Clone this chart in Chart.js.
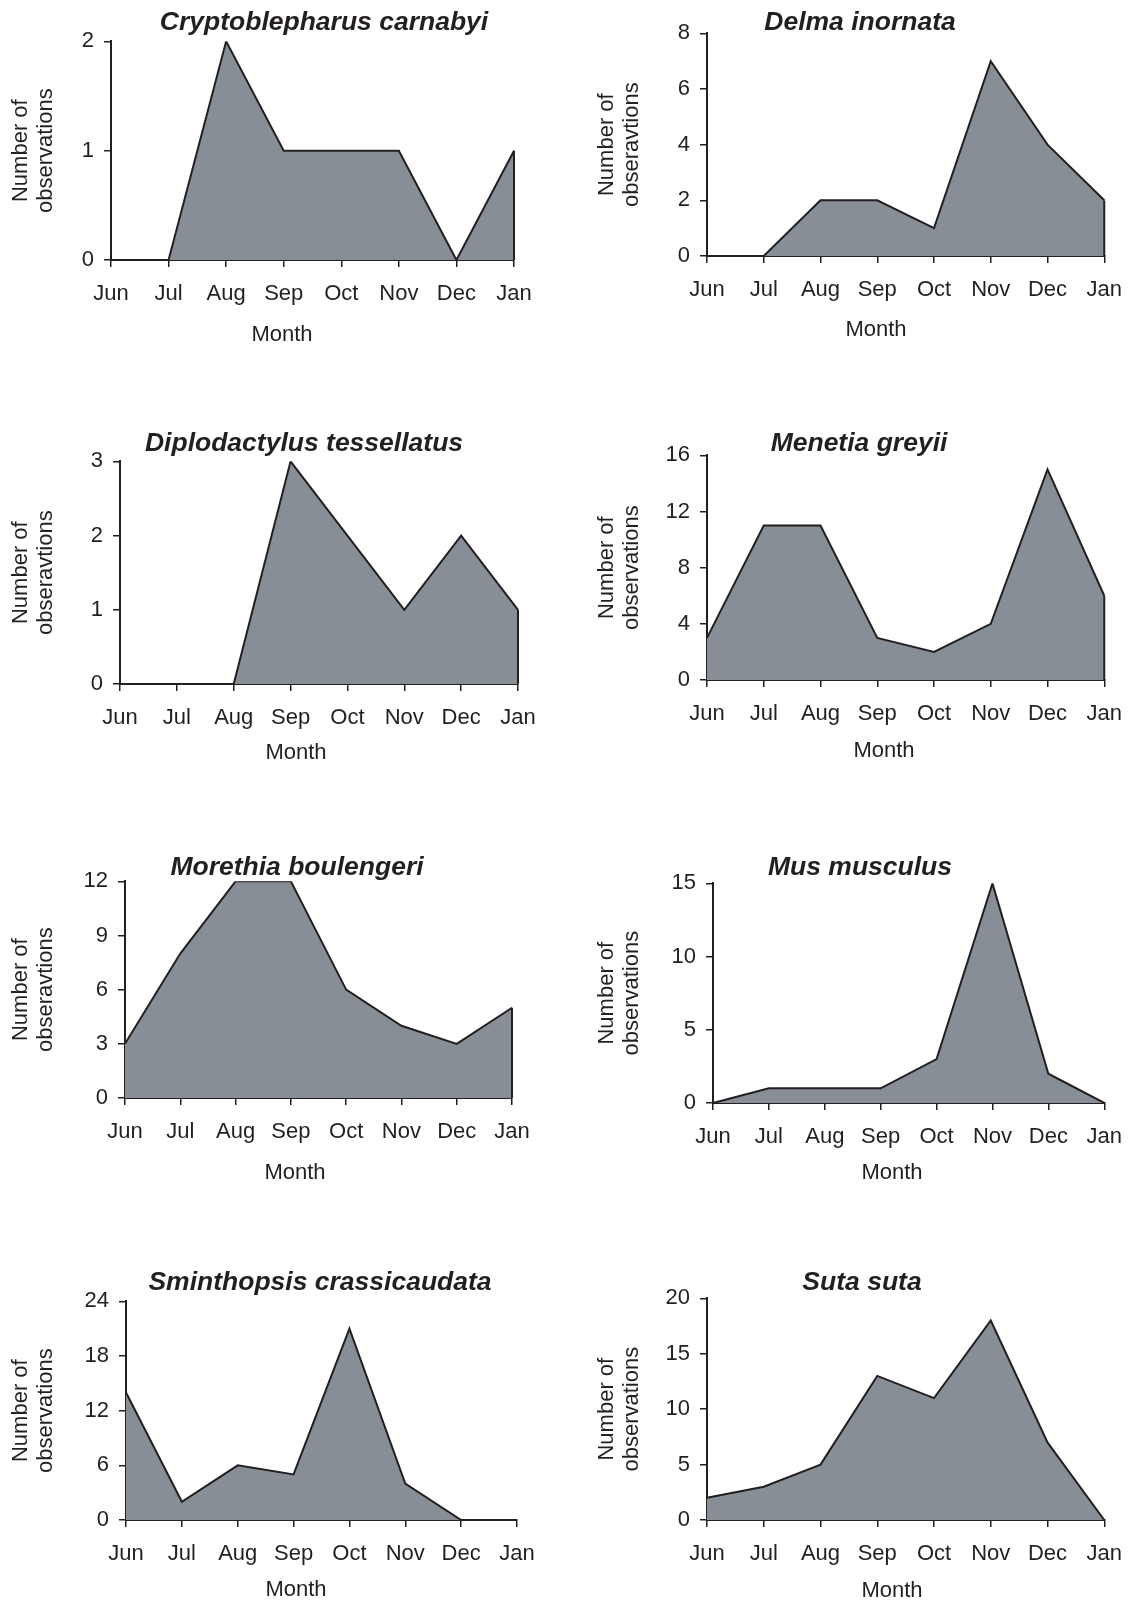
<!DOCTYPE html>
<html>
<head>
<meta charset="utf-8">
<title>Monthly observations</title>
<script src="https://cdn.jsdelivr.net/npm/chart.js@4.4.1/dist/chart.umd.min.js"></script>
<style>
body{margin:0;background:#fff;width:1141px;height:1606px;overflow:hidden;position:relative;}
canvas{position:absolute;}
</style>
</head>
<body>
<script>
'use strict';
//months on the x axis
let months=['Jun','Jul','Aug','Sep','Oct','Nov','Dec','Jan'];
//species, in panel order
let speciesNames=['Cryptoblepharus carnabyi','Delma inornata','Diplodactylus tessellatus','Menetia greyii',
  'Morethia boulengeri','Mus musculus','Sminthopsis crassicaudata','Suta suta'];
//number of observations each month
let cryptoblepharus=[0,0,2,1,1,1,0,1];
let delma=[0,0,2,2,1,7,4,2];
let diplodactylus=[0,0,0,3,2,1,2,1];
let menetia=[3,11,11,3,2,4,15,6];
let morethia=[3,8,12,12,6,4,3,5];
let mus=[0,1,1,1,3,15,2,0];
let sminthopsis=[14,2,6,5,21,4,0,0];
let suta=[2,3,5,13,11,18,7,0];
let allSeries=[cryptoblepharus,delma,diplodactylus,menetia,morethia,mus,sminthopsis,suta];
//y axis tick range
let yMaxes=[2,8,3,16,12,15,24,20];
let ySteps=[1,2,1,4,3,5,6,5];
//second line of the y title (spelt as in the original)
let yTitleWords=['observations','obseravtions','obseravtions','observations',
  'obseravtions','observations','observations','observations'];

//where each plot sits on the page:
//plot area L/T/R/B, title centre tx/ty, first y title line yt, Month centre mx/my
let panelBoxes=[
  {L:111,T:41,R:514,B:260,tx:324,ty:20.5,yt:20.5,mx:282,my:335},
  {L:707,T:33,R:1112,B:256,tx:860,ty:20.5,yt:607,mx:876,my:330},
  {L:120,T:461,R:518,B:684,tx:304,ty:441,yt:20.5,mx:296,my:753},
  {L:707,T:455,R:1112,B:680,tx:859,ty:441,yt:607,mx:884,my:751},
  {L:125,T:881,R:512,B:1098,tx:297,ty:865,yt:20.5,mx:295,my:1173},
  {L:713,T:883,R:1112,B:1103,tx:860,ty:865,yt:607,mx:892,my:1173},
  {L:126,T:1301,R:517,B:1520,tx:320,ty:1280,yt:20.5,mx:296,my:1590},
  {L:707,T:1298,R:1112,B:1520,tx:862,ty:1280,yt:607,mx:892,my:1591}
];

let ink='#231f20';
let areaGrey='#878e95';
let fontFam="'Liberation Sans', Arial, sans-serif";

//outline the right edge of the area down to zero
let edgeLine={
  id:'edgeLine',
  afterDatasetsDraw(chart){
    let meta=chart.getDatasetMeta(0);
    let last=meta.data[meta.data.length-1];
    let y0=chart.scales.y.getPixelForValue(0);
    let ctx=chart.ctx;
    ctx.save();
    ctx.strokeStyle=ink;
    ctx.lineWidth=2;
    ctx.beginPath();
    ctx.moveTo(last.x,last.y);
    ctx.lineTo(last.x,y0);
    ctx.stroke();
    ctx.restore();
  }
};

//x axis title, sits a bit left of the plot centre in the original
let monthTitle={
  id:'monthTitle',
  afterDraw(chart,args,opts){
    let ctx=chart.ctx;
    ctx.save();
    ctx.fillStyle=ink;
    ctx.font="22px "+fontFam;
    ctx.textAlign='center';
    ctx.textBaseline='middle';
    ctx.fillText('Month',opts.x,opts.y);
    ctx.restore();
  }
};

function drawPanel(i){
  let p=panelBoxes[i];
  let left=Math.floor(Math.min(p.yt-12.65,2*p.tx-p.R-24));
  let right=Math.round(2*p.tx-left);
  //title box: 26.5px font with lineHeight .7, text nudged a little down
  let top=Math.max(0,Math.round(p.ty-24));
  let pTop=p.ty+2.5-9.1-top;
  let pBot=p.T-top-pTop-18.2;
  let bottom=Math.round(Math.max(p.my+14,p.B+80));
  let yW=p.L-left;
  let xH=bottom-p.B;
  let padR=right-p.R;
  let tp=p.yt-left-12.65;

  let cnv=document.createElement('canvas');
  cnv.width=right-left;
  cnv.height=bottom-top;
  cnv.style.left=left+'px';
  cnv.style.top=top+'px';
  cnv.style.width=(right-left)+'px';
  cnv.style.height=(bottom-top)+'px';
  document.body.appendChild(cnv);

  let tickGrid={display:true,drawOnChartArea:false,drawTicks:true,tickLength:7,color:ink,lineWidth:1.5};

  new Chart(cnv.getContext('2d'),{
    type:'line',
    data:{
      labels:months,
      datasets:[{
        data:allSeries[i],
        borderColor:ink,
        borderWidth:2,
        backgroundColor:areaGrey,
        fill:'origin',
        pointRadius:0,
        tension:0
      }]
    },
    options:{
      responsive:false,
      animation:false,
      layout:{padding:0},
      plugins:{
        legend:{display:false},
        tooltip:{enabled:false},
        title:{
          display:true,
          text:speciesNames[i],
          color:ink,
          font:{family:fontFam,size:26.5,style:'italic',weight:'bold',lineHeight:0.7},
          padding:{top:pTop,bottom:pBot}
        },
        monthTitle:{x:p.mx-left,y:p.my-top}
      },
      scales:{
        x:{
          z:1,
          offset:false,
          grid:Object.assign({offset:false},tickGrid),
          border:{display:true,color:ink,width:2},
          ticks:{color:ink,font:{family:fontFam,size:22},padding:14,maxRotation:0,minRotation:0,autoSkip:false},
          afterFit(scale){scale.height=xH;}
        },
        y:{
          z:1,
          min:0,
          max:yMaxes[i],
          grid:tickGrid,
          border:{display:true,color:ink,width:2},
          ticks:{stepSize:ySteps[i],color:ink,font:{family:fontFam,size:22},padding:10},
          title:{display:true,text:['Number of',yTitleWords[i]],color:ink,
            font:{family:fontFam,size:22,lineHeight:1.15},padding:{top:tp,bottom:0}},
          afterFit(scale){scale.width=yW;}
        },
        //empty right-hand axis, only keeps room so the plot ends where it should
        pad:{
          type:'linear',
          position:'right',
          display:true,
          grid:{display:false},
          border:{display:false},
          ticks:{display:false},
          afterFit(scale){scale.width=padR;}
        }
      }
    },
    plugins:[edgeLine,monthTitle]
  });
}

for(let i=0;i<panelBoxes.length;i++){
  drawPanel(i);
}
</script>
</body>
</html>
